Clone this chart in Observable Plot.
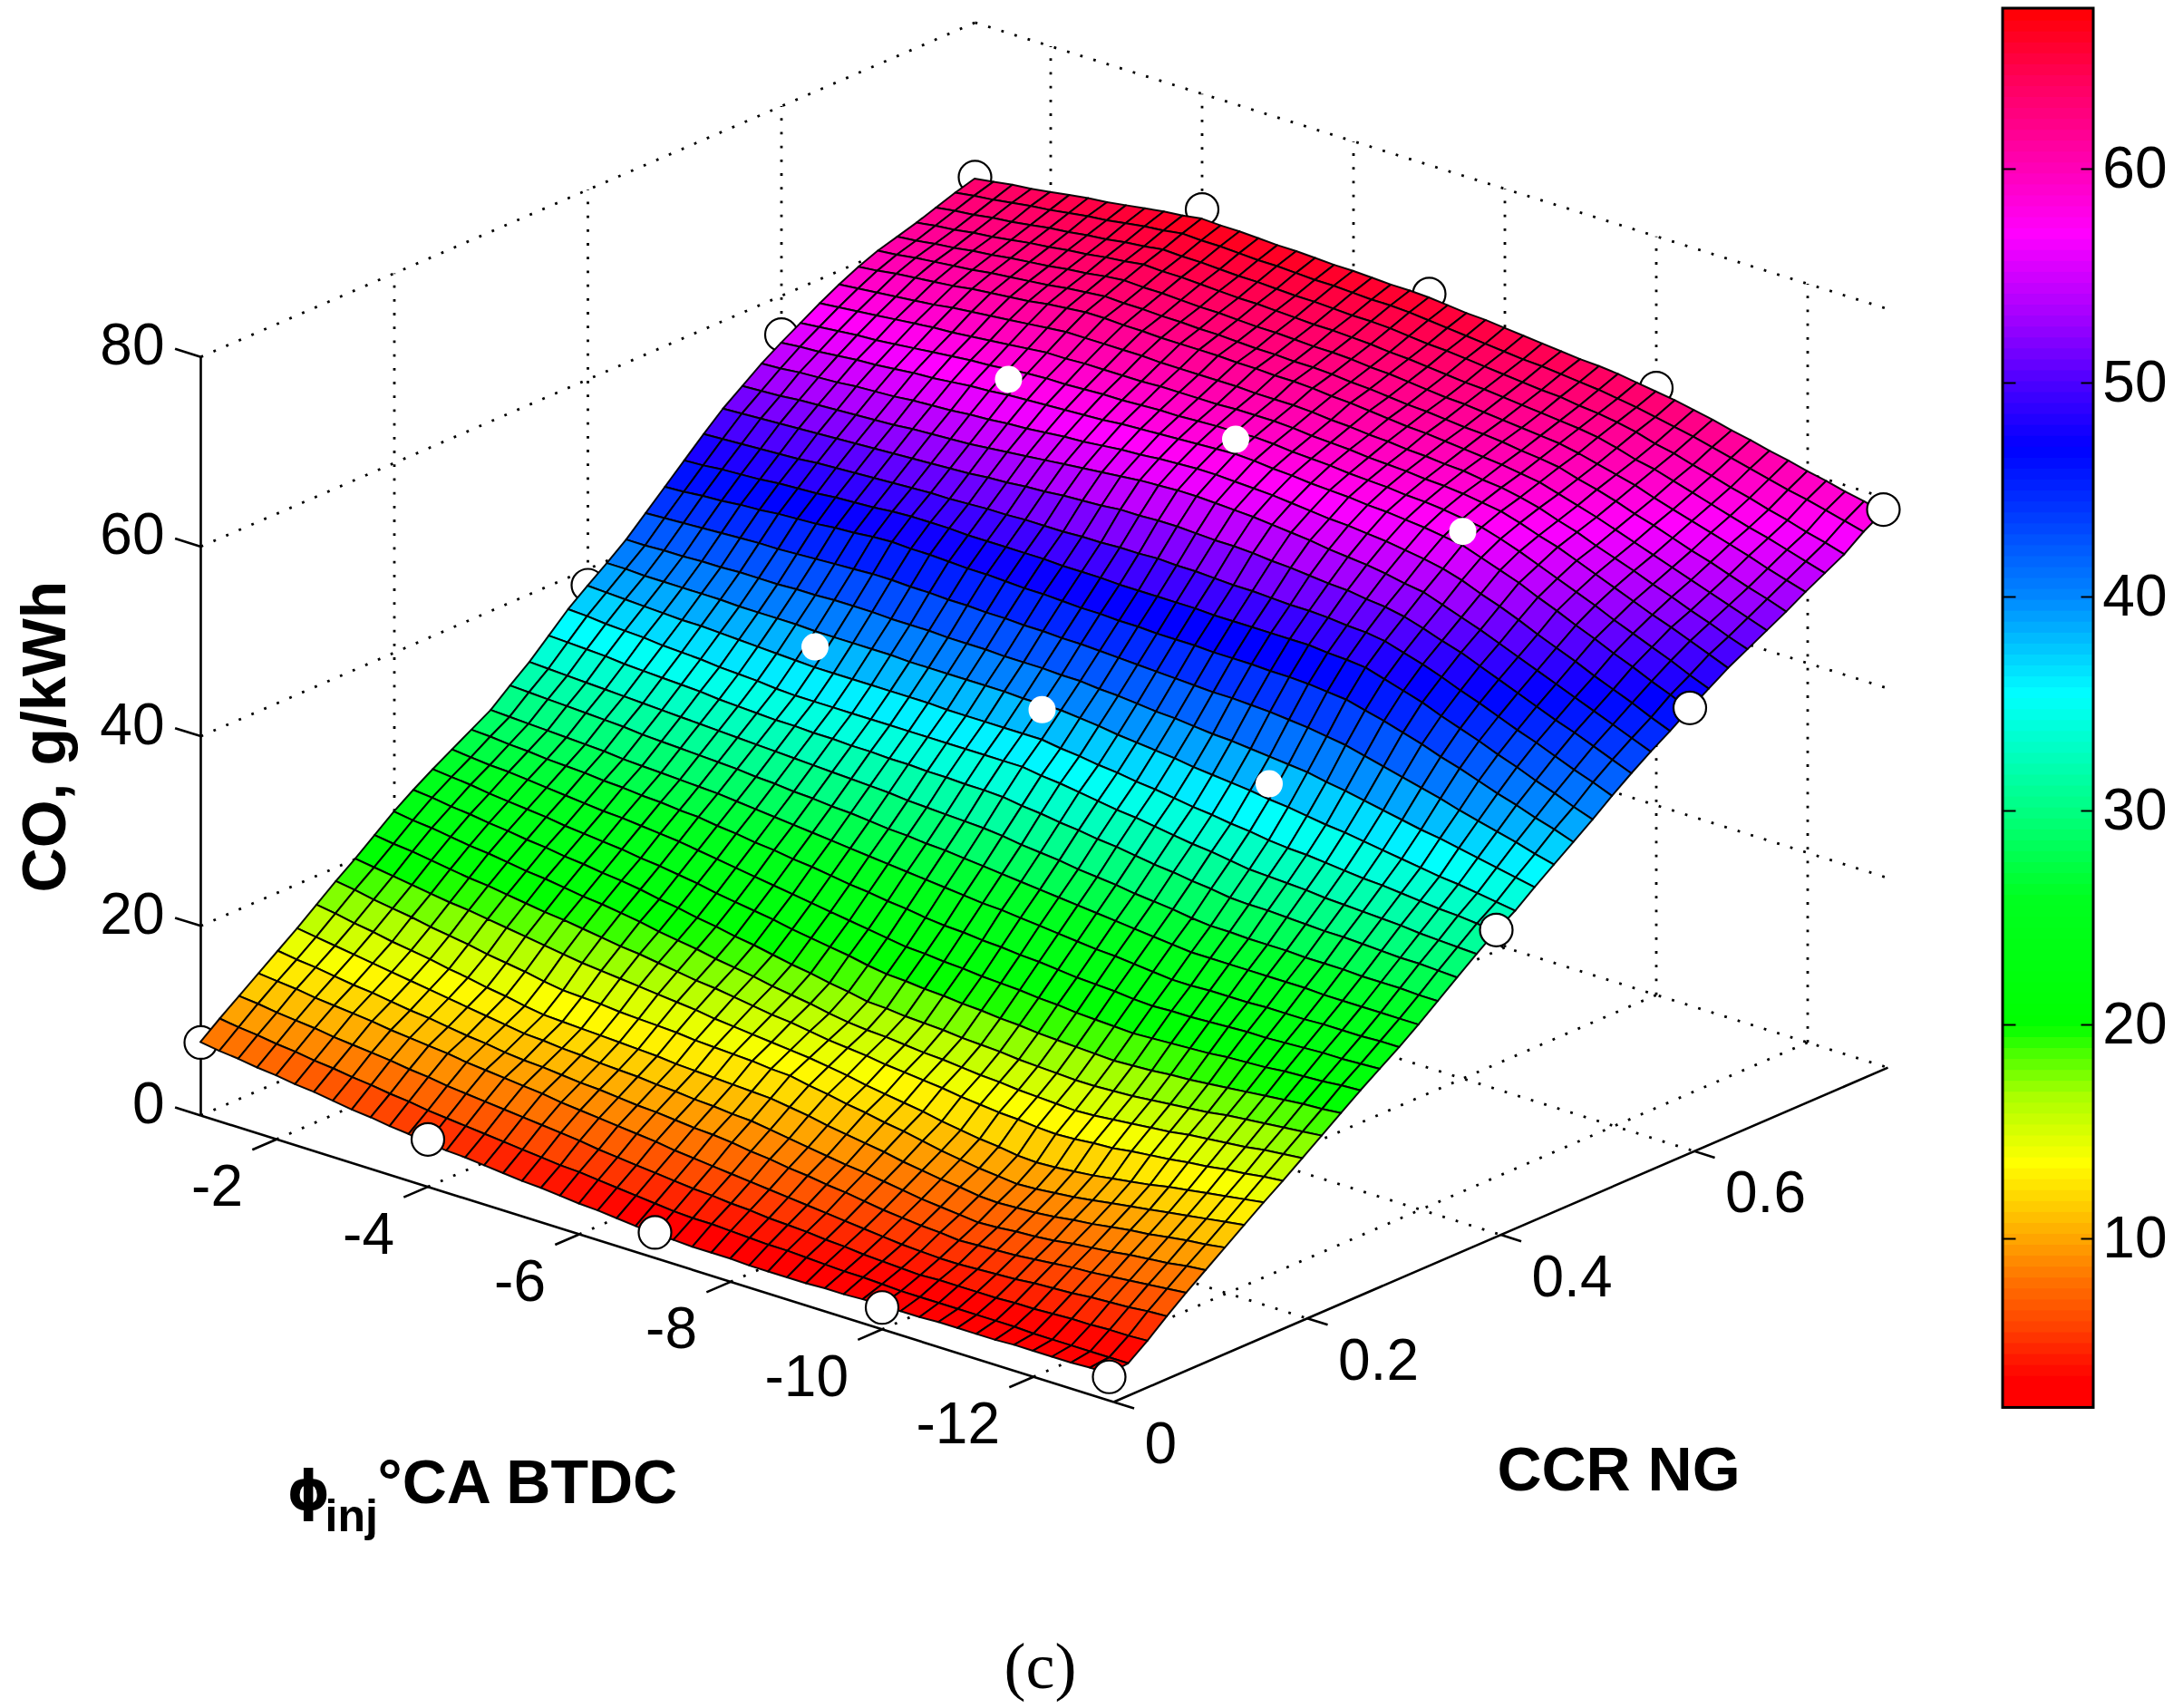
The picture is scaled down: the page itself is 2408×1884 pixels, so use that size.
<!DOCTYPE html>
<html>
<head>
<meta charset="utf-8">
<script src="https://cdn.jsdelivr.net/npm/d3@7"></script>
<script src="https://cdn.jsdelivr.net/npm/@observablehq/plot@0.6"></script>
<style>html,body{margin:0;padding:0;background:#fff}svg{display:block}</style>
</head>
<body>
<div id="chart"></div>
<script>
// Axis ticks
const phiTicks = [-2,-4,-6,-8,-10,-12];
const ccrTicks = [0,0.2,0.4,0.6];
const zTicks = [0,20,40,60,80];
const barTicks = [10,20,30,40,50,60];
const zTitle = "CO, g/kWh";
const ccrTitle = "CCR NG";
const caption = "(c)";

// Measured points (white circles)
const markerPhi = [-1,-4,-7,-10,-13];
const markerCcr = [0,0.4,0.6,0.8];
const markerCo = [
 [7.7,5.0,2.7,2.3,2.5],
 [38.3,39.3,40.2,39.9,32.0],
 [55.9,58.7,59.9,57.7,46.6],
 [63.7,67.8,66.4,64.0,58.7]
];

// Fitted surface: rows follow CCR (0 to 0.8 in steps of 0.02), columns follow phi (-1 to -13 in steps of -0.25)
const surfaceCo = [
[7.7,7.4,7.2,6.9,6.7,6.4,6.2,5.9,5.6,5.4,5.1,4.9,4.6,4.4,4.3,4.1,3.9,3.7,3.6,3.4,3.2,3.1,2.9,2.7,2.5,2.5,2.4,2.4,2.4,2.3,2.3,2.3,2.3,2.4,2.4,2.5,2.5,2.5,2.5,2.6,2.6,2.6,2.6,2.7,2.7,2.7,2.7,2.8,2.8],
[9.3,9.0,8.8,8.5,8.3,8.0,7.8,7.5,7.3,7.0,6.8,6.5,6.3,6.1,5.9,5.7,5.5,5.3,5.1,5.0,4.8,4.6,4.4,4.2,4.0,3.9,3.9,3.8,3.7,3.6,3.6,3.5,3.4,3.3,3.3,3.2,3.1,3.1,3.1,3.1,3.1,3.1,3.1,3.0,3.0,3.0,3.0,3.0,3.0],
[10.8,10.6,10.3,10.1,9.9,9.6,9.4,9.2,9.0,8.7,8.5,8.2,8.0,7.8,7.6,7.4,7.2,7.0,6.8,6.5,6.3,6.1,5.9,5.7,5.5,5.4,5.2,5.1,4.9,4.8,4.7,4.5,4.4,4.2,4.1,4.0,3.9,4.0,4.0,4.0,4.0,4.1,4.1,4.2,4.3,4.3,4.4,4.4,4.5],
[12.3,12.1,11.9,11.6,11.4,11.2,11.0,10.7,10.5,10.3,10.1,9.8,9.6,9.4,9.2,9.0,8.7,8.5,8.3,8.1,7.9,7.7,7.4,7.2,7.0,6.8,6.6,6.4,6.2,6.0,5.8,5.6,5.4,5.2,5.0,4.9,4.8,4.8,4.9,5.0,5.1,5.3,5.4,5.5,5.7,5.8,5.9,6.1,6.2],
[13.8,13.5,13.3,13.0,12.7,12.5,12.2,11.9,11.7,11.4,11.1,10.9,10.6,10.4,10.3,10.1,9.9,9.8,9.6,9.4,9.3,9.1,8.9,8.8,8.6,8.3,8.1,7.8,7.6,7.3,7.1,6.8,6.5,6.3,6.1,6.0,5.8,5.9,6.0,6.1,6.3,6.5,6.7,6.8,7.0,7.2,7.4,7.6,7.8],
[15.3,15.0,14.7,14.4,14.1,13.8,13.5,13.2,12.9,12.6,12.3,12.0,11.7,11.6,11.4,11.3,11.1,11.0,10.9,10.7,10.6,10.4,10.3,10.1,10.0,9.7,9.4,9.1,8.8,8.5,8.3,8.0,7.7,7.4,7.2,7.0,6.8,6.9,7.1,7.2,7.4,7.7,7.9,8.1,8.4,8.6,8.8,9.1,9.3],
[16.9,16.6,16.2,15.9,15.5,15.2,14.9,14.5,14.2,13.8,13.5,13.1,12.8,12.7,12.6,12.5,12.4,12.3,12.2,12.0,11.9,11.8,11.7,11.6,11.5,11.2,10.9,10.5,10.2,9.9,9.6,9.2,8.9,8.6,8.4,8.1,8.0,8.1,8.2,8.4,8.7,8.9,9.2,9.5,9.7,10.0,10.3,10.5,10.8],
[18.5,18.2,17.8,17.5,17.2,16.8,16.5,16.2,15.8,15.5,15.2,14.8,14.5,14.4,14.3,14.1,14.0,13.9,13.8,13.6,13.5,13.4,13.3,13.1,13.0,12.6,12.3,11.9,11.6,11.2,10.9,10.5,10.1,9.8,9.5,9.3,9.1,9.2,9.4,9.6,9.9,10.2,10.5,10.8,11.1,11.4,11.7,12.0,12.3],
[20.0,19.7,19.4,19.1,18.8,18.5,18.3,18.0,17.7,17.4,17.1,16.8,16.5,16.3,16.1,15.9,15.7,15.5,15.3,15.0,14.8,14.6,14.4,14.2,14.0,13.7,13.4,13.0,12.7,12.4,12.1,11.7,11.4,11.1,10.9,10.6,10.5,10.6,10.8,11.0,11.3,11.6,11.9,12.3,12.6,12.9,13.2,13.5,13.8],
[21.6,21.3,21.1,20.8,20.5,20.2,20.0,19.7,19.4,19.1,18.9,18.6,18.3,18.0,17.8,17.5,17.2,16.9,16.7,16.4,16.1,15.8,15.6,15.3,15.0,14.8,14.6,14.3,14.1,13.9,13.7,13.4,13.2,13.0,12.9,12.7,12.6,12.7,12.9,13.0,13.3,13.5,13.7,14.0,14.2,14.5,14.7,15.0,15.2],
[23.2,22.9,22.7,22.4,22.1,21.9,21.6,21.3,21.1,20.8,20.5,20.3,20.0,19.7,19.3,19.0,18.7,18.3,18.0,17.7,17.3,17.0,16.7,16.3,16.0,15.8,15.7,15.5,15.3,15.2,15.0,14.8,14.7,14.5,14.4,14.3,14.2,14.3,14.5,14.7,14.9,15.1,15.4,15.6,15.8,16.0,16.3,16.5,16.7],
[24.6,24.4,24.1,23.9,23.6,23.4,23.1,22.9,22.6,22.4,22.1,21.9,21.6,21.2,20.9,20.5,20.2,19.8,19.5,19.1,18.7,18.4,18.0,17.7,17.3,17.2,17.0,16.9,16.8,16.6,16.5,16.4,16.2,16.1,16.0,15.9,15.9,16.0,16.1,16.3,16.5,16.7,16.9,17.2,17.4,17.6,17.8,18.0,18.2],
[25.9,25.7,25.5,25.2,25.0,24.8,24.6,24.3,24.1,23.9,23.7,23.4,23.2,22.9,22.6,22.2,21.9,21.6,21.3,20.9,20.6,20.3,20.0,19.6,19.3,19.2,19.0,18.9,18.7,18.6,18.4,18.3,18.1,18.0,17.9,17.8,17.7,17.8,17.9,18.1,18.2,18.4,18.6,18.8,19.0,19.2,19.4,19.5,19.7],
[27.1,26.9,26.7,26.6,26.4,26.2,26.0,25.8,25.6,25.5,25.3,25.1,24.9,24.6,24.3,24.0,23.7,23.4,23.1,22.8,22.5,22.2,21.9,21.6,21.3,21.2,21.0,20.9,20.7,20.6,20.5,20.3,20.2,20.0,19.9,19.8,19.7,19.8,19.9,20.0,20.1,20.3,20.4,20.5,20.7,20.8,20.9,21.1,21.2],
[28.3,28.2,28.0,27.9,27.7,27.6,27.5,27.3,27.2,27.0,26.9,26.7,26.6,26.3,26.1,25.8,25.6,25.3,25.1,24.8,24.5,24.3,24.0,23.8,23.5,23.3,23.2,23.0,22.9,22.7,22.6,22.4,22.2,22.1,22.0,21.8,21.7,21.8,21.8,21.9,22.0,22.1,22.1,22.2,22.3,22.4,22.4,22.5,22.6],
[29.5,29.4,29.3,29.2,29.1,29.0,28.9,28.7,28.6,28.5,28.4,28.3,28.2,28.0,27.8,27.6,27.4,27.2,27.0,26.8,26.6,26.4,26.2,26.0,25.8,25.6,25.4,25.3,25.1,24.9,24.7,24.5,24.3,24.2,24.0,23.8,23.6,23.6,23.7,23.7,23.7,23.8,23.8,23.8,23.9,23.9,23.9,24.0,24.0],
[31.2,31.1,31.0,30.9,30.8,30.7,30.6,30.4,30.3,30.2,30.1,30.0,29.9,29.7,29.6,29.4,29.3,29.1,29.0,28.8,28.6,28.5,28.3,28.2,28.0,27.8,27.6,27.4,27.2,27.0,26.8,26.6,26.4,26.2,26.0,25.8,25.6,25.6,25.6,25.6,25.6,25.6,25.6,25.5,25.5,25.5,25.5,25.5,25.5],
[32.8,32.7,32.6,32.5,32.4,32.3,32.2,32.1,32.0,31.9,31.8,31.7,31.6,31.5,31.4,31.3,31.2,31.1,31.0,30.9,30.7,30.6,30.5,30.4,30.3,30.1,29.8,29.6,29.4,29.1,28.9,28.7,28.4,28.2,28.0,27.7,27.5,27.5,27.4,27.4,27.4,27.3,27.3,27.3,27.2,27.2,27.2,27.1,27.1],
[34.7,34.6,34.5,34.4,34.2,34.1,34.0,33.9,33.8,33.6,33.5,33.4,33.3,33.3,33.2,33.2,33.1,33.1,33.0,33.0,32.9,32.9,32.8,32.8,32.7,32.4,32.2,31.9,31.7,31.4,31.2,30.9,30.6,30.4,30.1,29.9,29.6,29.5,29.5,29.4,29.3,29.2,29.2,29.1,29.0,28.9,28.9,28.8,28.7],
[36.6,36.5,36.3,36.2,36.1,35.9,35.8,35.7,35.5,35.4,35.3,35.1,35.0,35.0,35.0,35.0,35.0,35.0,35.0,35.0,35.0,35.0,35.0,35.0,35.0,34.7,34.5,34.2,33.9,33.6,33.4,33.1,32.8,32.5,32.3,32.0,31.7,31.6,31.5,31.4,31.2,31.1,31.0,30.9,30.8,30.6,30.5,30.4,30.3],
[38.2,38.1,38.0,37.9,37.8,37.7,37.7,37.6,37.5,37.4,37.3,37.2,37.1,37.1,37.1,37.1,37.1,37.1,37.1,37.0,37.0,37.0,37.0,37.0,37.0,36.7,36.5,36.2,36.0,35.7,35.5,35.2,34.9,34.7,34.4,34.2,33.9,33.7,33.6,33.4,33.2,33.0,32.9,32.7,32.5,32.3,32.2,32.0,31.8],
[39.7,39.7,39.6,39.6,39.6,39.6,39.6,39.5,39.5,39.5,39.5,39.4,39.4,39.4,39.4,39.4,39.3,39.3,39.3,39.3,39.3,39.3,39.2,39.2,39.2,39.0,38.8,38.5,38.3,38.1,37.9,37.6,37.4,37.2,37.0,36.7,36.5,36.2,35.9,35.7,35.4,35.1,34.8,34.5,34.2,34.0,33.7,33.4,33.1],
[41.3,41.3,41.4,41.4,41.5,41.5,41.6,41.6,41.6,41.7,41.7,41.8,41.8,41.8,41.7,41.7,41.7,41.6,41.6,41.6,41.5,41.5,41.5,41.4,41.4,41.2,41.1,40.9,40.7,40.6,40.4,40.2,40.1,39.9,39.7,39.5,39.3,38.9,38.6,38.2,37.8,37.4,37.0,36.7,36.3,35.9,35.5,35.1,34.7],
[43.2,43.3,43.4,43.5,43.6,43.7,43.8,43.8,43.9,44.0,44.1,44.2,44.3,44.3,44.2,44.2,44.1,44.1,44.0,44.0,43.9,43.9,43.8,43.8,43.7,43.6,43.5,43.4,43.3,43.2,43.1,43.1,43.0,42.9,42.7,42.5,42.2,41.9,41.4,40.9,40.4,39.9,39.4,38.8,38.3,37.8,37.3,36.7,36.2],
[45.1,45.2,45.4,45.5,45.7,45.8,46.0,46.1,46.2,46.4,46.5,46.7,46.8,46.7,46.7,46.6,46.5,46.5,46.4,46.3,46.3,46.2,46.1,46.1,46.0,46.0,45.9,45.9,45.9,45.8,45.8,45.8,45.7,45.7,45.6,45.4,45.2,44.7,44.2,43.6,43.0,42.3,41.7,41.0,40.3,39.7,39.0,38.4,37.7],
[47.0,47.1,47.3,47.4,47.5,47.7,47.8,47.9,48.1,48.2,48.3,48.5,48.6,48.6,48.6,48.5,48.5,48.5,48.5,48.5,48.4,48.4,48.4,48.3,48.3,48.3,48.3,48.3,48.2,48.2,48.2,48.2,48.2,48.2,48.0,47.9,47.7,47.1,46.5,45.9,45.1,44.4,43.7,42.9,42.2,41.4,40.7,39.9,39.2],
[48.9,49.0,49.1,49.2,49.3,49.4,49.6,49.7,49.8,49.9,50.0,50.1,50.2,50.2,50.3,50.4,50.4,50.5,50.5,50.5,50.6,50.6,50.7,50.7,50.8,50.7,50.7,50.6,50.5,50.5,50.4,50.3,50.3,50.2,50.0,49.9,49.6,49.0,48.4,47.7,46.9,46.2,45.4,44.6,43.9,43.1,42.3,41.6,40.8],
[50.7,50.8,50.9,51.0,51.1,51.2,51.3,51.4,51.5,51.6,51.7,51.8,51.9,52.0,52.2,52.3,52.5,52.6,52.8,52.9,53.0,53.2,53.2,53.3,53.3,53.2,53.1,53.1,53.0,52.8,52.7,52.5,52.3,52.2,51.9,51.7,51.3,50.7,50.0,49.4,48.6,47.8,47.0,46.2,45.4,44.7,43.9,43.1,42.3],
[52.2,52.3,52.4,52.6,52.7,52.8,52.9,53.0,53.1,53.3,53.4,53.5,53.6,53.8,54.0,54.2,54.4,54.6,54.8,55.0,55.2,55.4,55.5,55.6,55.6,55.5,55.4,55.3,55.1,54.9,54.7,54.4,54.2,54.0,53.7,53.3,53.0,52.3,51.6,50.9,50.1,49.3,48.5,47.7,46.9,46.1,45.3,44.5,43.7],
[53.7,53.8,54.0,54.1,54.2,54.4,54.5,54.6,54.8,54.9,55.0,55.2,55.3,55.5,55.6,55.8,56.0,56.1,56.3,56.5,56.6,56.8,56.9,57.0,57.0,56.9,56.8,56.7,56.5,56.3,56.1,56.0,55.8,55.6,55.3,55.0,54.6,54.0,53.2,52.5,51.7,50.8,50.0,49.2,48.3,47.5,46.7,45.8,45.0],
[55.0,55.2,55.3,55.5,55.7,55.8,56.0,56.2,56.3,56.5,56.7,56.8,57.0,57.1,57.2,57.3,57.4,57.5,57.7,57.8,57.9,58.0,58.1,58.2,58.3,58.2,58.0,57.9,57.7,57.6,57.5,57.3,57.2,57.0,56.8,56.5,56.2,55.5,54.8,54.1,53.2,52.4,51.5,50.7,49.8,49.0,48.1,47.3,46.4],
[56.2,56.4,56.6,56.8,56.9,57.1,57.3,57.5,57.7,57.9,58.0,58.2,58.4,58.5,58.5,58.6,58.7,58.7,58.8,58.9,58.9,59.0,59.1,59.1,59.2,59.1,58.9,58.8,58.7,58.5,58.4,58.3,58.1,58.0,57.8,57.5,57.2,56.6,55.9,55.1,54.3,53.5,52.7,51.8,51.0,50.2,49.4,48.5,47.7],
[57.4,57.6,57.8,58.0,58.2,58.4,58.6,58.7,58.9,59.1,59.3,59.5,59.7,59.7,59.8,59.8,59.8,59.8,59.9,59.9,59.9,59.9,60.0,60.0,60.0,59.9,59.7,59.6,59.5,59.3,59.2,59.1,58.9,58.8,58.6,58.3,58.0,57.4,56.7,56.1,55.3,54.5,53.7,52.9,52.1,51.4,50.6,49.8,49.0],
[58.5,58.7,58.9,59.1,59.3,59.5,59.8,60.0,60.2,60.4,60.6,60.8,61.0,61.0,61.0,61.0,61.0,60.9,60.9,60.9,60.9,60.9,60.8,60.8,60.8,60.7,60.5,60.4,60.2,60.1,59.9,59.8,59.6,59.5,59.2,59.0,58.6,58.1,57.4,56.8,56.0,55.3,54.6,53.8,53.1,52.3,51.6,50.8,50.1],
[59.5,59.7,60.0,60.2,60.4,60.6,60.9,61.1,61.3,61.5,61.8,62.0,62.2,62.2,62.1,62.1,62.0,62.0,62.0,62.0,61.9,61.9,61.8,61.8,61.7,61.5,61.4,61.2,61.0,60.8,60.7,60.5,60.3,60.1,59.9,59.6,59.3,58.7,58.1,57.5,56.8,56.1,55.4,54.7,54.0,53.3,52.6,51.9,51.2],
[60.3,60.5,60.8,61.0,61.2,61.4,61.7,61.9,62.1,62.3,62.6,62.8,63.0,62.9,62.9,62.8,62.8,62.7,62.7,62.6,62.5,62.5,62.4,62.4,62.3,62.1,62.0,61.8,61.6,61.5,61.3,61.1,61.0,60.8,60.5,60.3,60.0,59.4,58.9,58.3,57.6,57.0,56.3,55.6,55.0,54.3,53.6,53.0,52.3],
[60.9,61.1,61.4,61.6,61.9,62.1,62.4,62.6,62.8,63.1,63.3,63.6,63.8,63.7,63.7,63.6,63.5,63.5,63.4,63.3,63.3,63.2,63.1,63.1,63.0,62.8,62.7,62.5,62.3,62.1,62.0,61.8,61.6,61.4,61.2,61.0,60.6,60.1,59.6,59.1,58.4,57.8,57.2,56.6,56.0,55.4,54.7,54.1,53.5],
[61.5,61.8,62.0,62.3,62.5,62.8,63.1,63.3,63.6,63.8,64.1,64.3,64.6,64.5,64.5,64.4,64.3,64.2,64.2,64.1,64.0,63.9,63.9,63.8,63.7,63.5,63.4,63.2,63.0,62.8,62.7,62.5,62.3,62.1,61.9,61.7,61.4,60.9,60.3,59.9,59.3,58.7,58.1,57.5,56.9,56.4,55.8,55.2,54.6],
[62.2,62.5,62.7,63.0,63.2,63.5,63.8,64.0,64.3,64.5,64.8,65.0,65.3,65.2,65.2,65.1,65.0,65.0,64.9,64.8,64.8,64.7,64.6,64.6,64.5,64.3,64.1,64.0,63.8,63.6,63.4,63.2,63.0,62.9,62.6,62.4,62.1,61.7,61.1,60.7,60.1,59.6,59.0,58.5,57.9,57.4,56.8,56.3,55.7],
[62.9,63.2,63.4,63.7,64.0,64.2,64.5,64.8,65.0,65.3,65.6,65.8,66.1,66.0,66.0,65.9,65.8,65.8,65.7,65.6,65.6,65.5,65.4,65.4,65.3,65.1,64.9,64.7,64.5,64.3,64.1,64.0,63.8,63.6,63.4,63.1,62.8,62.4,62.0,61.6,61.1,60.6,60.1,59.6,59.1,58.7,58.2,57.7,57.2],
[63.5,63.8,64.1,64.3,64.6,64.9,65.2,65.4,65.7,66.0,66.3,66.5,66.8,66.7,66.7,66.6,66.5,66.5,66.4,66.3,66.3,66.2,66.1,66.1,66.0,65.8,65.6,65.5,65.3,65.1,64.9,64.7,64.5,64.4,64.2,63.9,63.6,63.3,62.9,62.5,62.0,61.6,61.1,60.7,60.2,59.8,59.3,58.9,58.4]
];

// Colorbar palette
const paletteStops = [2.1,3.5,6,8,10,13.6,16.7,18.6,20,26,30,35.5,40,44,47,50,53,57,60,64,67.5];
const paletteColors = ["#ff0000","#ff0000","#ff4400","#ff7000","#ffa500","#ffff00","#aaff00","#50ff00","#00ff00","#00ff20","#00ff80","#00ffff","#0088ff","#0038ff","#0000ff","#4a00ff","#a000ff","#ff00ff","#ff00b8","#ff0060","#ff0000"];
const barMin = 2.1, barMax = 67.5;

// Orthographic view of the 3D box
const phiStart = -1, phiEnd = -13.06, ccrEnd = 0.8, zEnd = 80;
const view = {x0:221, y0:1230, xPhi:83.5, yPhi:26.2, xCcr:1067.5, yCcr:461, yZ:10.46};
const sx = (phi,c) => view.x0 + view.xPhi*(phiStart-phi) + view.xCcr*c;
const sy = (phi,c,z) => view.y0 + view.yPhi*(phiStart-phi) - view.yCcr*c - view.yZ*z;
const bar = {left:2209, right:2309, at10:1366, perUnit:23.6, tick:14};
const barY = v => bar.at10 - (v-10)*bar.perUnit;

const phiAt = i => -1 - i*0.25;
const ccrAt = j => j*0.02;
const cells = [];
for (let j = surfaceCo.length-2; j >= 0; j--) {
  for (let i = 0; i < surfaceCo[j].length-1; i++) {
    const v = (surfaceCo[j][i]+surfaceCo[j][i+1]+surfaceCo[j+1][i]+surfaceCo[j+1][i+1])/4;
    const id = j*100+i;
    cells.push({id,v,x1:sx(phiAt(i),ccrAt(j)),y1:sy(phiAt(i),ccrAt(j),surfaceCo[j][i]),x2:sx(phiAt(i),ccrAt(j+1)),y2:sy(phiAt(i),ccrAt(j+1),surfaceCo[j+1][i])});
    cells.push({id,v,x1:sx(phiAt(i+1),ccrAt(j)),y1:sy(phiAt(i+1),ccrAt(j),surfaceCo[j][i+1]),x2:sx(phiAt(i+1),ccrAt(j+1)),y2:sy(phiAt(i+1),ccrAt(j+1),surfaceCo[j+1][i+1])});
  }
}

const seg = (a,b) => ({x1:sx(a[0],a[1]),y1:sy(a[0],a[1],a[2]),x2:sx(b[0],b[1]),y2:sy(b[0],b[1],b[2])});
const grid = [];
for (const z of zTicks) {
  grid.push(seg([phiStart,0,z],[phiStart,ccrEnd,z]));
  grid.push(seg([phiStart,ccrEnd,z],[phiEnd,ccrEnd,z]));
}
for (const c of ccrTicks.slice(1)) {
  grid.push(seg([phiStart,c,0],[phiStart,c,zEnd]));
  grid.push(seg([phiStart,c,0],[phiEnd,c,0]));
}
for (const p of phiTicks) {
  grid.push(seg([p,ccrEnd,0],[p,ccrEnd,zEnd]));
  grid.push(seg([p,0,0],[p,ccrEnd,0]));
}

const axes = [
  seg([phiStart,0,0],[phiStart,0,zEnd]),
  seg([phiStart,0,0],[phiEnd,0,0]),
  seg([phiEnd,0,0],[phiEnd,ccrEnd,0]),
  ...zTicks.map(z => seg([phiStart,0,z],[phiStart+0.34,0,z])),
  ...phiTicks.map(p => seg([p,0,0],[p,-0.025,0])),
  ...ccrTicks.map(c => seg([phiEnd,c,0],[phiEnd-0.27,c,0]))
];

const markers = [];
markerCcr.forEach((c,r) => markerPhi.forEach((p,k) => markers.push({p,c,z:markerCo[r][k],r,k})));
const under = markers.filter(m => m.k===0 || (m.r===3 && m.k<4));
const over = markers.filter(m => (m.r===0 && m.k>0) || m.k===4);
const inner = markers.filter(m => m.r>0 && m.r<3 && m.k>0 && m.k<4);
const mx = m => sx(m.p,m.c), my = m => sy(m.p,m.c,m.z);

const barLevels = d3.range(128).map(i => barMin + (barMax-barMin)*(i+0.5)/128);
const barStep = (barMax-barMin)/128;
const sans = "Liberation Sans, Arial, sans-serif";

const chart = Plot.plot({
  width:2408, height:1884, margin:0,
  style:{background:"#fff", fontFamily:sans},
  x:{domain:[0,2408], range:[0,2408], axis:null},
  y:{domain:[0,1884], range:[0,1884], axis:null},
  color:{type:"linear", domain:paletteStops, range:paletteColors, interpolate:"rgb", clamp:true, legend:false},
  marks:[
    Plot.link(grid,{x1:"x1",y1:"y1",x2:"x2",y2:"y2",stroke:"#000",strokeWidth:2.8,strokeDasharray:"2.8 12.4"}),
    Plot.link(axes,{x1:"x1",y1:"y1",x2:"x2",y2:"y2",stroke:"#000",strokeWidth:2.6}),
    Plot.dot(under,{x:mx,y:my,r:18,fill:"#fff",stroke:"#000",strokeWidth:2.2}),
    Plot.area(cells,{x1:"x1",y1:"y1",x2:"x2",y2:"y2",z:"id",fill:"v",stroke:"#000",strokeWidth:2,strokeOpacity:0.95,strokeLinejoin:"round"}),
    Plot.dot(over,{x:mx,y:my,r:18,fill:"#fff",stroke:"#000",strokeWidth:2.2}),
    Plot.dot(inner,{x:mx,y:my,r:15,fill:"#fff"}),
    // tick labels
    Plot.text(zTicks,{x:d=>sx(phiStart,0),y:d=>sy(phiStart,0,d),dx:-40,dy:-12,text:d=>String(d),textAnchor:"end",fontSize:64,fill:"#000",fontFamily:sans}),
    Plot.text(phiTicks,{x:d=>sx(d,0),y:d=>sy(d,0,0),dx:-37,dy:53,text:d=>String(d),textAnchor:"end",fontSize:64,fill:"#000",fontFamily:sans}),
    Plot.text(ccrTicks,{x:d=>sx(phiEnd,d),y:d=>sy(phiEnd,d,0),dx:34,dy:47,text:d=>String(d),textAnchor:"start",fontSize:64,fill:"#000",fontFamily:sans}),
    // titles
    Plot.text([zTitle],{x:()=>50,y:()=>812,rotate:-90,text:d=>d,fontSize:68,fontWeight:"bold",fill:"#000",fontFamily:sans}),
    Plot.text(["\u03D5"],{x:()=>340,y:()=>1645,text:d=>d,fontSize:60,fontWeight:"bold",fill:"#000",fontFamily:"DejaVu Sans"}),
    Plot.text(["inj"],{x:()=>358,y:()=>1672,text:d=>d,textAnchor:"start",fontSize:50,fontWeight:"bold",fill:"#000",fontFamily:sans}),
    Plot.text(["\u00B0CA BTDC"],{x:()=>416,y:()=>1636,text:d=>d,textAnchor:"start",fontSize:68,fontWeight:"bold",fill:"#000",fontFamily:sans}),
    Plot.text([ccrTitle],{x:()=>1785,y:()=>1622,text:d=>d,fontSize:68,fontWeight:"bold",fill:"#000",fontFamily:sans}),
    Plot.text([caption],{x:()=>1147,y:()=>1838,text:d=>d,fontSize:72,fill:"#000",fontFamily:"Liberation Serif"}),
    // colorbar
    Plot.rect(barLevels,{x1:()=>bar.left,x2:()=>bar.right,y1:d=>barY(d-barStep/2)+1.5,y2:d=>barY(d+barStep/2),fill:d=>d}),
    Plot.rect([0],{x1:()=>bar.left,x2:()=>bar.right,y1:()=>barY(barMin),y2:()=>barY(barMax),fill:"none",stroke:"#000",strokeWidth:3}),
    Plot.link(barTicks,{x1:()=>bar.left,x2:()=>bar.left+bar.tick,y1:barY,y2:barY,stroke:"#000",strokeWidth:2}),
    Plot.link(barTicks,{x1:()=>bar.right-bar.tick,x2:()=>bar.right,y1:barY,y2:barY,stroke:"#000",strokeWidth:2}),
    Plot.text(barTicks,{x:()=>2390,y:barY,text:d=>String(d),textAnchor:"end",fontSize:64,fill:"#000",fontFamily:sans})
  ]
});
document.getElementById("chart").appendChild(chart);
</script>
</body>
</html>
